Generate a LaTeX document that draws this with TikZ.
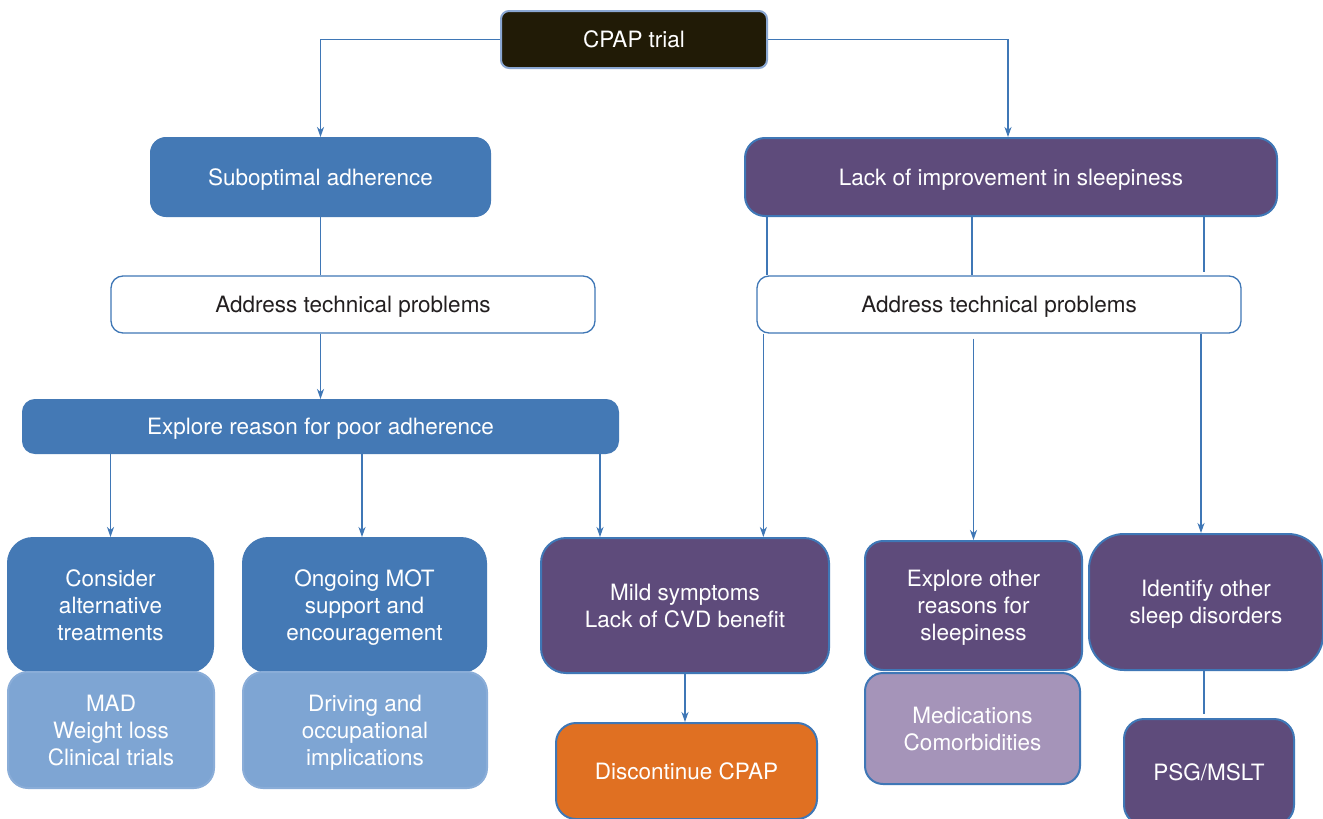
\documentclass[tikz,border=0pt]{standalone}
\usepackage{fontspec}
\setmainfont{TeX Gyre Heros}
\usetikzlibrary{arrows.meta}
\definecolor{linkblue}{HTML}{3F77B6}
\definecolor{boxblue}{HTML}{4479B5}
\definecolor{paleblue}{HTML}{7EA5D3}
\definecolor{paleblueedge}{HTML}{8AADD8}
\definecolor{boxpurple}{HTML}{5E4B7B}
\definecolor{palepurple}{HTML}{A594B9}
\definecolor{boxorange}{HTML}{E07022}
\definecolor{boxdark}{HTML}{211B06}
\definecolor{darkedge}{HTML}{8AA7D2}
\definecolor{inktext}{HTML}{231F20}
% fixed height for the first line of a stacked label
\newcommand\firstln{\rule{0pt}{22pt}}
\tikzset{
  base/.style={rectangle, inner sep=0pt, align=center, line width=2pt,
    font=\fontsize{22.5}{27}\selectfont,
    % fixed first-line height and last-line depth keep baselines uniform
    execute at begin node={\rule{0pt}{22pt}},
    execute at end node={\rule[-5.5pt]{0pt}{5.5pt}}},
  darkbox/.style={base, fill=boxdark, draw=darkedge, text=white, rounded corners=8pt},
  bluebox/.style={base, fill=boxblue, draw=boxblue, text=white},
  lightbluebox/.style={base, fill=paleblue, draw=paleblueedge, text=white},
  purplebox/.style={base, fill=boxpurple, draw=linkblue, text=white},
  lightpurplebox/.style={base, fill=palepurple, draw=linkblue, text=white},
  orangebox/.style={base, fill=boxorange, draw=linkblue, text=white},
  whitebox/.style={base, fill=white, draw=linkblue, line width=1.3pt, text=inktext, rounded corners=12pt},
  link/.style={draw=linkblue, line width=1.2pt},
  arrowlink/.style={link, -{Stealth[length=10pt,width=7pt,inset=3pt]}},
}
\begin{document}
\begin{tikzpicture}[x=1pt,y=-1pt]
\useasboundingbox (0,0) rectangle (1323,819);
\clip (0,0) rectangle (1323,819);
\fill[white] (0,0) rectangle (1323,819);

% top row
\node[darkbox, minimum width=266pt, minimum height=57pt] (cpap) at (634,39.5) {CPAP trial};
\node[bluebox, rounded corners=15pt, minimum width=339pt, minimum height=78pt] (sub) at (320.5,177) {Suboptimal adherence};
\node[purplebox, rounded corners=20pt, minimum width=532pt, minimum height=78pt] (lack) at (1011,177) {Lack of improvement in sleepiness};

% technical problems
\node[whitebox, minimum width=484pt, minimum height=57pt] (addrL) at (353,304.5) {Address technical problems};
\node[whitebox, minimum width=484pt, minimum height=57pt] (addrR) at (999,304.5) {Address technical problems};

% adherence branch
\node[bluebox, rounded corners=12pt, minimum width=595pt, minimum height=53pt] (explore) at (320.5,426.5) {Explore reason for poor adherence};
\node[bluebox, rounded corners=25pt, minimum width=205pt, minimum height=134pt] (consider) at (110.5,605) {\firstln Consider\\alternative\\treatments};
\node[lightbluebox, rounded corners=20pt, minimum width=206pt, minimum height=116pt] (mad) at (111,730) {\firstln MAD\\Weight loss\\Clinical trials};
\node[bluebox, rounded corners=25pt, minimum width=243pt, minimum height=134pt] (mot) at (364.5,605) {\firstln Ongoing MOT\\support and\\encouragement};
\node[lightbluebox, rounded corners=20pt, minimum width=244pt, minimum height=116pt] (driving) at (365,730) {\firstln Driving and\\occupational\\implications};

% sleepiness branch
\node[purplebox, rounded corners=25pt, minimum width=288pt, minimum height=135pt] (mild) at (685,605.5) {\firstln Mild symptoms\\Lack of CVD benefit};
\node[orangebox, rounded corners=20pt, minimum width=261pt, minimum height=96pt] (disc) at (686.5,771) {Discontinue CPAP};
\node[purplebox, rounded corners=18pt, minimum width=217pt, minimum height=129pt] (other) at (973.5,605.5) {\firstln Explore other\\reasons for\\sleepiness};
\node[lightpurplebox, rounded corners=18pt, minimum width=215pt, minimum height=111pt] (meds) at (972.5,728.5) {\firstln Medications\\Comorbidities};
\node[purplebox, rounded corners=35pt, minimum width=234pt, minimum height=136pt] (ident) at (1206,602) {\firstln Identify other\\sleep disorders};
\node[purplebox, rounded corners=20pt, minimum width=170pt, minimum height=106pt] (psg) at (1209,772) {PSG/MSLT};

% connectors from the trial
\draw[arrowlink] (cpap.west) -| (sub.north);
\draw[arrowlink] (cpap.east) -| ([xshift=-3pt]lack.north);

% adherence connectors
\draw[link] (sub.south) -- (sub.south |- addrL.north);
\draw[arrowlink] (explore.north |- addrL.south) -- (explore.north);
\draw[arrowlink] (consider.north |- explore.south) -- (consider.north);
\draw[arrowlink] ([xshift=-2.5pt]mot.north |- explore.south) -- ([xshift=-2.5pt]mot.north);
\draw[arrowlink] ([xshift=-19pt]explore.south east) -- ([xshift=-19pt]explore.south east |- mild.north);

% sleepiness connectors
\draw[link] ([xshift=23pt]lack.south west) -- ([xshift=23pt]lack.south west |- addrR.north);
\draw[link] ([xshift=-39pt]lack.south) -- ([xshift=-39pt]lack.south |- addrR.north);
\draw[link] ([xshift=193pt]lack.south) -- ([xshift=193pt,yshift=3pt]lack.south |- addrR.north);
\draw[arrowlink] ([xshift=7pt]addrR.south west) -- ([xshift=7pt]addrR.south west |- mild.north);
\draw[arrowlink] ([yshift=-5pt]other.north |- addrR.south) -- (other.north);
\draw[arrowlink] ([xshift=-5pt]ident.north |- addrR.south) -- ([xshift=-5pt]ident.north);
\draw[arrowlink] (mild.south) -- (mild.south |- disc.north);
\draw[link] ([xshift=-2pt]ident.south) -- ([xshift=-2pt,yshift=4pt]ident.south |- psg.north);
\end{tikzpicture}
\end{document}
